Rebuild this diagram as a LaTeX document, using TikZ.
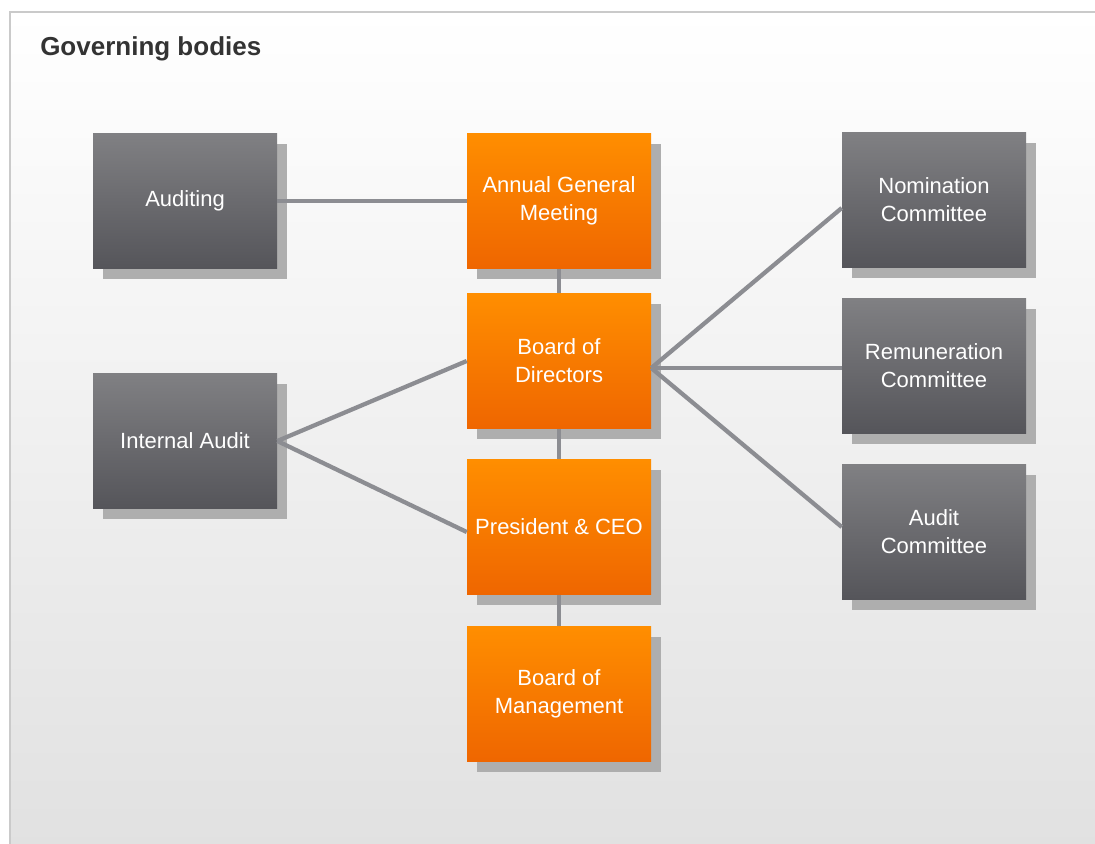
\documentclass[tikz,border=0pt]{standalone}
\usepackage{fontspec}
\setmainfont{Liberation Sans}
\usetikzlibrary{shadows}
\definecolor{graytop}{HTML}{808083}
\definecolor{graybot}{HTML}{55555A}
\definecolor{orangetop}{HTML}{FF8E00}
\definecolor{orangebot}{HTML}{EF6600}
\definecolor{linkgray}{HTML}{8C8D92}
\definecolor{shadowgray}{HTML}{AEAEAE}
\definecolor{titlegray}{HTML}{333333}
\definecolor{panelbot}{HTML}{E1E1E1}
\definecolor{panelrim}{HTML}{CACACA}
\begin{document}
\begin{tikzpicture}[x=0.75pt,y=-0.75pt,
  body/.style={inner sep=0pt,minimum width=138pt,minimum height=101.25pt,
    align=center,text=white,font=\fontsize{16.5pt}{21pt}\selectfont,
    drop shadow={shadow xshift=7.5pt,shadow yshift=-7.5pt,fill=shadowgray,opacity=1}},
  graybox/.style={body,top color=graytop,bottom color=graybot},
  orangebox/.style={body,top color=orangetop,bottom color=orangebot},
  link/.style={linkgray,line width=3.2pt}]
%\draw[step=50,gray,very thin] (0,0) grid (1095,843); %bckgr grid
\useasboundingbox (0,0) rectangle (1095,843);
\fill[white] (0,0) rectangle (1095,843);
\shade[top color=white,bottom color=panelbot] (10,12) rectangle (1100,850);
\draw[panelrim,line width=1.5pt] (10,850) -- (10,12) -- (1100,12);

\node[anchor=base west,inner sep=0pt,text=titlegray,font=\fontsize{19.5pt}{23pt}\selectfont\bfseries] (title) at (40,55) {Governing bodies};

\node[graybox] (auditing) at (185,201) {Auditing};
\node[graybox] (internal) at (185,441) {Internal Audit};

\node[orangebox] (agm) at (559,201) {Annual General\\Meeting};
\node[orangebox] (board) at (559,361) {Board of\\Directors};
\node[orangebox] (ceo) at (559,527) {President \& CEO};
\node[orangebox] (mgmt) at (559,694) {Board of\\Management};

\node[graybox] (nomination) at (934,200) {Nomination\\Committee};
\node[graybox] (remuneration) at (934,366) {Remuneration\\Committee};
\node[graybox] (audit) at (934,532) {Audit\\Committee};

\coordinate (hub) at ([yshift=-5.25pt]board.east);

\draw[link] (auditing.east) -- (agm.west);
\draw[link] (agm.south) -- (board.north);
\draw[link] (board.south) -- (ceo.north);
\draw[link] (ceo.south) -- (mgmt.north);
\draw[link] (internal.east) -- (board.west);
\draw[link] (internal.east) -- ([yshift=-3.75pt]ceo.west);
\draw[link] (hub) -- ([yshift=-6pt]nomination.west);
\draw[link] (hub) -- ([yshift=-1.5pt]remuneration.west);
\draw[link] (hub) -- ([yshift=3.75pt]audit.west);

\end{tikzpicture}
\end{document}
